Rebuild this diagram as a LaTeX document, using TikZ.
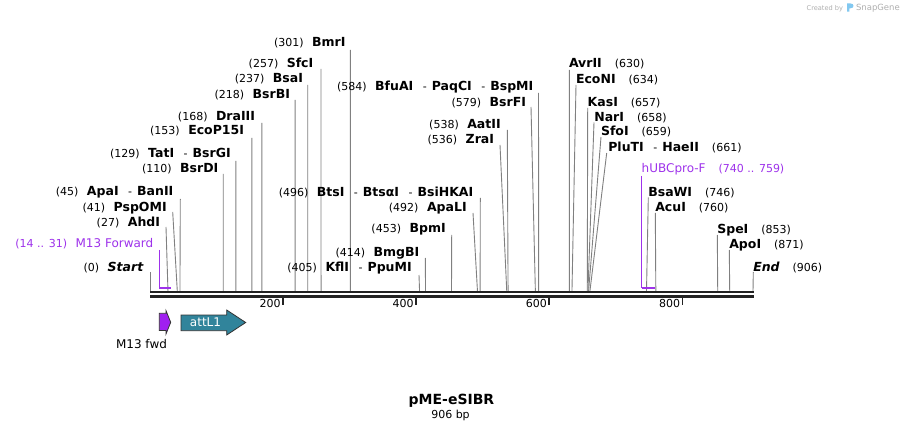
\documentclass[tikz,border=0pt]{standalone}
\usepackage{fontspec}
\setmainfont{DejaVu Sans}
\definecolor{cutc}{RGB}{128,128,128}
\definecolor{primerc}{RGB}{158,50,235}
\definecolor{m13fill}{RGB}{160,32,240}
\definecolor{attc}{RGB}{49,132,155}
\definecolor{bbc}{RGB}{34,34,34}
\definecolor{credc}{RGB}{175,175,175}
\definecolor{logoc}{RGB}{130,200,240}
\newcommand\snum[1]{{\fontsize{11}{13}\selectfont #1}}
\newcommand\senz[1]{{\fontsize{12.5}{14}\selectfont\bfseries #1}}
\newcommand\sital[1]{{\fontsize{12.5}{14}\selectfont\bfseries\itshape #1}}
\newcommand\sdash{{\fontsize{11}{13}\selectfont\hspace{9.5pt}-\hspace{5pt}}}
\newcommand\sgap{\hspace{8.5pt}}
\newcommand\rgap{\hspace{13pt}}
\newcommand\lsite[7]{%
  \node[lbl,anchor=base east] (#1) at (#2,#3) {#4};
  \coordinate (#1-t) at (#5,#6);
  \coordinate (#1-b) at ({150+#7*0.665563},291);
  \draw[cut] (#1-t) -- (#1-b);
}
\newcommand\rsite[7]{%
  \node[lbl,anchor=base west] (#1) at (#2,#3) {#4};
  \coordinate (#1-t) at (#5,#6);
  \coordinate (#1-b) at ({150+#7*0.665563},291);
  \draw[cut] (#1-t) -- (#1-b);
}
\begin{document}
\begin{tikzpicture}[x=1pt,y=-1pt,
  lbl/.style={inner sep=0pt,outer sep=0pt},
  cut/.style={draw=cutc,line width=0.9pt},
  bb/.style={draw=bbc,line width=2.6pt},
  tick/.style={draw=bbc,line width=1.8pt},
  pline/.style={draw=primerc,line width=1.3pt},
  pbar/.style={draw=primerc,line width=2.2pt},
  feat/.style={draw=black!80,line width=0.8pt,line join=miter}]
\fill[white] (0,0) rectangle (904,430);
\useasboundingbox (0,0) rectangle (904,430);

% left-side sites
\lsite{bmri}{345.5}{46.5}{\snum{(301)}\sgap\senz{BmrI}}{350.3}{50}{301}
\lsite{sfci}{313.3}{67.5}{\snum{(257)}\sgap\senz{SfcI}}{321}{69}{257}
\lsite{bsai}{303}{82.5}{\snum{(237)}\sgap\senz{BsaI}}{307.7}{85}{237}
\lsite{bsrbi}{290}{98.5}{\snum{(218)}\sgap\senz{BsrBI}}{295.1}{100}{218}
\lsite{draiii}{255}{120.5}{\snum{(168)}\sgap\senz{DraIII}}{261.8}{123}{168}
\lsite{ecop}{244}{134.5}{\snum{(153)}\sgap\senz{EcoP15I}}{251.8}{138}{153}
\lsite{tati}{230.7}{157.5}{\snum{(129)}\sgap\senz{TatI}\sdash\senz{BsrGI}}{235.9}{161}{129}
\lsite{bsrdi}{218.3}{172.5}{\snum{(110)}\sgap\senz{BsrDI}}{223.2}{174}{110}
\lsite{apai}{173.3}{195.5}{\snum{(45)}\sgap\senz{ApaI}\sdash\senz{BanII}}{180.3}{199}{45}
\lsite{pspomi}{166.7}{211.5}{\snum{(41)}\sgap\senz{PspOMI}}{172.7}{212}{41}
\lsite{ahdi}{160}{226.5}{\snum{(27)}\sgap\senz{AhdI}}{166}{227}{27}
\lsite{start}{143.3}{271.5}{\snum{(0)}\sgap\sital{Start}}{150}{272}{0}
\lsite{bfuai}{533.3}{90.5}{\snum{(584)}\sgap\senz{BfuAI}\sdash\senz{PaqCI}\sdash\senz{BspMI}}{538.5}{93}{584}
\lsite{bsrfi}{526}{106.5}{\snum{(579)}\sgap\senz{BsrFI}}{531}{107}{579}
\lsite{aatii}{500.7}{128.5}{\snum{(538)}\sgap\senz{AatII}}{507.3}{130}{538}
\lsite{zrai}{494}{143.5}{\snum{(536)}\sgap\senz{ZraI}}{500}{145}{536}
\lsite{btsi}{473.3}{196.5}{\snum{(496)}\sgap\senz{BtsI}\sdash\senz{BtsαI}\sdash\senz{BsiHKAI}}{480.3}{198}{496}
\lsite{apali}{466.7}{211.5}{\snum{(492)}\sgap\senz{ApaLI}}{473}{213}{492}
\lsite{bpmi}{445.7}{232.5}{\snum{(453)}\sgap\senz{BpmI}}{451.7}{235}{453}
\lsite{bmgbi}{419.3}{256.5}{\snum{(414)}\sgap\senz{BmgBI}}{425.3}{258}{414}
\lsite{kfli}{411.7}{271.5}{\snum{(405)}\sgap\senz{KflI}\sdash\senz{PpuMI}}{419}{275}{405}

% right-side sites
\rsite{avrii}{569}{67.5}{\senz{AvrII}\rgap\snum{(630)}}{569.3}{70}{630}
\rsite{econi}{576}{83.5}{\senz{EcoNI}\rgap\snum{(634)}}{576}{85}{634}
\rsite{kasi}{587.7}{106.5}{\senz{KasI}\rgap\snum{(657)}}{587.7}{108}{657}
\rsite{nari}{594.3}{121.5}{\senz{NarI}\rgap\snum{(658)}}{594}{122.5}{658}
\rsite{sfoi}{601}{135.5}{\senz{SfoI}\rgap\snum{(659)}}{601}{137}{659}
\rsite{pluti}{608.3}{151.5}{\senz{PluTI}\sdash\senz{HaeII}\rgap\snum{(661)}}{606.7}{153}{661}
\rsite{bsawi}{648.3}{196.5}{\senz{BsaWI}\rgap\snum{(746)}}{648.3}{197.5}{746}
\rsite{acui}{655.3}{211.5}{\senz{AcuI}\rgap\snum{(760)}}{655.3}{213}{760}
\rsite{spei}{717.3}{233.5}{\senz{SpeI}\rgap\snum{(853)}}{717.3}{235}{853}
\rsite{apoi}{729.3}{248.5}{\senz{ApoI}\rgap\snum{(871)}}{729.3}{250}{871}
\rsite{endn}{753.3}{271.5}{\sital{End}\rgap\snum{(906)}}{753.3}{272}{906}

% primers
\node[lbl,anchor=base east,text=primerc] (m13lab) at (153.3,247.5)
  {\snum{(14 .. 31)}\sgap{\fontsize{12}{14}\selectfont M13 Forward}};
\coordinate (m13t) at (159.3,250);
\coordinate (m13c) at (159.3,287.6);
\coordinate (m13e) at (170.6,287.6);
\draw[pline] (m13t) -- (m13c);
\draw[pbar] (m13c) -- (m13e);

\node[lbl,anchor=base west,text=primerc] (hubclab) at (641.7,172.5)
  {{\fontsize{12}{14}\selectfont hUBCpro-F}\rgap\snum{(740 .. 759)}};
\coordinate (hubct) at (641.7,176);
\coordinate (hubcc) at (641.7,287.6);
\coordinate (hubce) at (655.2,287.6);
\draw[pline] (hubct) -- (hubcc);
\draw[pbar] (hubcc) -- (hubce);

% backbone
\coordinate (bbl1) at (150,292);   \coordinate (bbr1) at (753.5,292);
\coordinate (bbl2) at (150,296.4); \coordinate (bbr2) at (753.5,296.4);
\draw[bb] (bbl1) -- (bbr1);
\draw[bb] (bbl2) -- (bbr2);

% ticks
\foreach \v/\xx in {200/283.1,400/416.2,600/549.3,800/682.5}{
  \coordinate (tk\v a) at (\xx,297.5);
  \coordinate (tk\v b) at (\xx,305);
  \draw[tick] (tk\v a) -- (tk\v b);
  \node[lbl,anchor=base east] (tl\v) at (\xx-2.5,307.5) {\snum{\v}};
}

% features
\draw[feat,fill=m13fill] (159.3,313.3) -- (166,313.3) -- (166,310.7) -- (170.7,322.3)
  -- (166,334) -- (166,330.5) -- (159.3,330.5) -- cycle;
\node[lbl,anchor=base] (m13fwd) at (141.5,348.5) {\fontsize{12}{14}\selectfont M13 fwd};

\draw[feat,fill=attc] (181,315) -- (226.7,315) -- (226.7,310) -- (245.7,322.5)
  -- (226.7,335) -- (226.7,330.7) -- (181,330.7) -- cycle;
\node[lbl,text=white] (attl1) at (205.5,322.5) {\fontsize{12}{14}\selectfont attL1};

% title
\node[lbl,anchor=base] (title) at (451.5,404) {\fontsize{14}{16}\selectfont\bfseries pME-eSIBR};
\node[lbl,anchor=base] (size) at (450.5,418) {\snum{906 bp}};

% credit
\node[lbl,anchor=base west,text=credc] (cred) at (806.7,10.5) {\fontsize{6.6}{8}\selectfont Created by};
\fill[logoc] (847,11.7) -- (847,3.5) -- (850.5,3.5) .. controls (854.5,3.5) and (854.5,8.3) .. (850.5,8.3) -- (849.3,8.3) -- (849.3,11.7) -- cycle;
\node[lbl,anchor=base west,text=credc] (sg) at (856,11) {\fontsize{8.5}{10}\selectfont SnapGene};
\end{tikzpicture}
\end{document}
